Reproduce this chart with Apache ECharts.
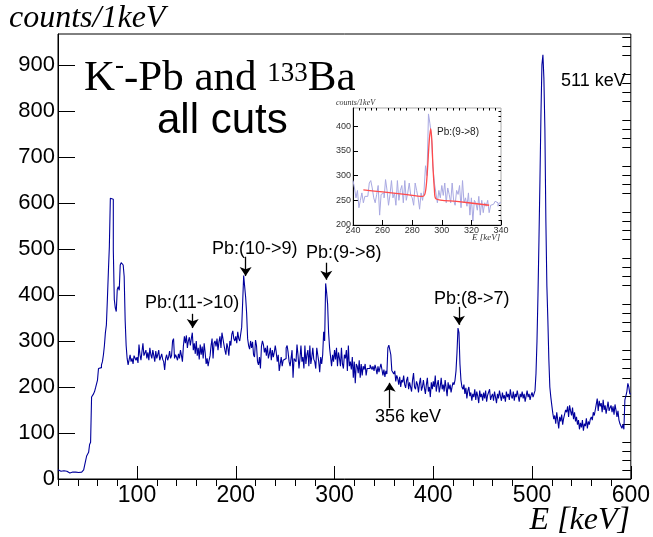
<!DOCTYPE html>
<html><head><meta charset="utf-8">
<script src="https://cdn.jsdelivr.net/npm/echarts@6/dist/echarts.min.js"></script>
<style>html,body{margin:0;padding:0;background:#fff}#c{width:653px;height:537px}</style>
</head><body><div id="c"></div>
<script>
// ---- main histogram: 1 keV bins from 20 to 600 keV ----
const binLow = 20;
const binWidth = 1;
const mainCounts = [
 20,18,17,15,16,18,14,15,17,14,
 15,13,14,16,15,13,14,15,12,13,
 14,12,13,15,16,14,20,30,40,50,
 52,58,75,80,178,182,185,190,198,202,
 215,240,238,242,248,255,270,290,318,335,
 390,450,505,610,612,608,498,390,372,364,
 412,418,410,465,470,468,465,440,345,290,
 262,248,245,270,255,262,250,268,272,258,
 265,252,292,270,258,262,295,268,272,280,
 262,275,258,285,270,262,280,268,255,278,
 262,270,280,258,265,272,260,255,237,262,
 270,258,265,278,262,268,300,305,262,270,
 265,258,272,262,280,268,255,290,310,295,
 312,285,300,308,290,305,318,280,295,272,
 300,268,285,260,292,270,288,262,295,275,
 250,262,245,258,268,290,305,262,295,300,
 288,305,280,298,310,285,318,320,292,280,
 270,295,285,268,300,290,315,322,305,300,
 310,295,320,305,300,315,330,385,442,440,
 395,360,305,290,282,300,285,298,270,265,
 302,290,255,248,265,240,288,300,292,275,
 285,268,290,262,272,285,258,280,265,275,
 290,275,255,270,235,250,265,245,258,258,
 262,285,290,275,255,245,262,280,220,262,
 265,255,292,270,240,262,290,255,265,240,
 290,250,270,280,245,290,250,265,285,260,
 255,240,285,270,255,232,265,250,270,320,
 300,425,405,380,318,285,265,245,270,255,
 280,260,285,245,275,262,245,285,250,240,
 270,262,280,235,290,245,255,238,265,220,
 255,208,250,245,230,258,220,250,225,245,
 238,250,225,240,242,240,248,245,238,245,
 235,248,240,228,245,232,242,250,238,225,
 238,222,235,228,285,291,288,270,236,232,
 228,235,212,225,218,205,222,200,215,210,
 225,205,198,215,222,195,210,200,190,215,
 230,200,195,212,205,188,208,220,192,200,
 215,198,185,205,220,190,200,178,210,195,
 212,200,225,190,205,215,188,200,220,195,
 205,190,215,198,180,210,195,205,188,200,
 210,205,215,235,275,328,318,250,215,200,
 195,205,185,198,175,192,200,180,188,170,
 185,178,195,172,190,180,165,192,178,185,
 170,188,175,192,168,182,178,195,172,180,
 185,170,190,178,165,185,175,192,180,170,
 188,175,182,168,190,178,185,172,195,180,
 175,190,170,185,178,192,180,168,185,178,
 190,175,185,168,180,192,178,185,172,182,
 188,178,185,192,230,300,400,520,650,790,
 900,922,870,760,560,420,346,260,200,178,
 160,143,130,138,120,145,128,110,135,125,
 140,118,132,128,150,145,158,135,160,148,
 138,155,130,145,125,135,118,128,108,122,
 112,128,105,120,115,132,110,125,118,130,
 135,128,145,138,150,162,175,148,170,158,
 165,145,172,150,160,142,155,168,148,155,
 160,145,158,140,162,150,135,148,128,120,
 115,110,118,108,172,180,190,208,200,185
];

// ---- inset: 1 keV bins 240..340 ----
const insetLow = 240;
const insetWidth = 1;
const insetCounts = [
 290,275,255,270,235,250,265,245,258,258,
 262,285,290,275,255,245,262,280,220,262,
 265,255,292,270,240,262,290,255,265,240,
 290,250,270,280,245,290,250,265,285,260,
 255,240,285,270,255,232,265,250,270,320,
 300,425,405,380,318,285,265,245,270,255,
 280,260,285,245,275,262,245,285,250,240,
 270,262,280,235,290,245,255,238,265,220,
 255,208,250,245,230,258,220,250,225,245,
 238,250,225,240,242,240,248,245,238,245
];
// fit curve (E, counts)
const fitE = [247,260,275,287,288.5,289.5,290.5,291.5,292.5,293.3,294,295,296,310,332];
const fitV = [271,267,262,258,262,280,320,370,395,370,320,272,253,248,240];

const xTickLabels = [100,200,300,400,500,600];
const yTickLabels = [0,100,200,300,400,500,600,700,800,900];
const insetXTicks = [240,260,280,300,320,340];
const insetYTicks = [200,250,300,350,400];

// arrows: [energy keV, from count, to count]
const arrowLines = [
  [156.4, 359, 328],
  [210, 483, 441],
  [291.7, 470, 433],
  [426, 374, 335],
  [355.8, 154, 209]
];

function stepData(low, w, counts){
  const d = counts.map((v,i)=>[low + i*w, v]);
  d.push([low + counts.length*w, counts[counts.length-1]]);
  return d;
}
function range(a,b,s){const r=[];for(let v=a;v<=b+1e-9;v+=s)r.push(v);return r;}
const xMinor = range(20,600,20).filter(v=>xTickLabels.indexOf(v)<0);
const yMinor = range(20,960,20).filter(v=>yTickLabels.indexOf(v)<0);
const insetXMinor = range(240,340,4).filter(v=>insetXTicks.indexOf(v)<0);
const insetYMinor = range(200,430,10).filter(v=>insetYTicks.indexOf(v)<0);

const chart = echarts.init(document.getElementById('c'), null, {renderer:'canvas'});
const sans = 'Liberation Sans, Arial, sans-serif';
const serif = 'Liberation Serif, Times New Roman, serif';

function axisMajor(grid, min, max, ticks, len, fs, margin, color){
  return {
    gridIndex: grid, type:'value', min:min, max:max,
    axisLine:{show:true, lineStyle:{color:'#000', width:1}},
    axisTick:{show:true, inside:true, length:len, customValues:ticks, lineStyle:{color:'#000', width:1}},
    axisLabel:{show:true, customValues:ticks, fontSize:fs, fontFamily:sans, color:color||'#000', margin:margin},
    splitLine:{show:false}
  };
}
function axisMinor(grid, min, max, ticks, len){
  return {
    gridIndex: grid, type:'value', min:min, max:max,
    axisLine:{show:false},
    axisTick:{show:true, inside:true, length:len, customValues:ticks, lineStyle:{color:'#000', width:1}},
    axisLabel:{show:false},
    splitLine:{show:false}
  };
}

const option = {
  animation:false,
  backgroundColor:'#fff',
  grid:[
    {left:58, top:34, width:573, height:445, show:true, borderColor:'#000', borderWidth:1, backgroundColor:'transparent'},
    {left:353, top:108, width:148, height:117, show:true, borderColor:'#aaa', borderWidth:1, backgroundColor:'#fff'}
  ],
  xAxis:[
    axisMajor(0, 20, 600, xTickLabels, 13, 23, 5),
    axisMinor(0, 20, 600, xMinor, 7),
    axisMajor(1, 240, 340, insetXTicks, 5, 9, 1, '#333'),
    axisMinor(1, 240, 340, insetXMinor, 2.5)
  ],
  yAxis:[
    axisMajor(0, 0, 967, yTickLabels, 17, 22, 3),
    axisMinor(0, 0, 967, yMinor, 8.5),
    axisMajor(1, 200, 437, insetYTicks, 5, 9, 2, '#333'),
    axisMinor(1, 200, 437, insetYMinor, 2.5)
  ],
  series:[
    {
      type:'line', xAxisIndex:0, yAxisIndex:0, step:'end', symbol:'none',
      data: stepData(binLow, binWidth, mainCounts),
      lineStyle:{color:'#00009c', width:1.1}, z:3,
      markLine:{
        silent:true, symbol:['none','arrow'], symbolSize:9, animation:false,
        label:{show:false},
        lineStyle:{color:'#000', width:1.3, type:'solid'},
        emphasis:{disabled:true},
        data: arrowLines.map(a=>[{coord:[a[0],a[1]]},{coord:[a[0],a[2]]}])
      }
    },
    {
      type:'line', xAxisIndex:2, yAxisIndex:2, step:'end', symbol:'none',
      data: stepData(insetLow, insetWidth, insetCounts),
      lineStyle:{color:'#a9a9e2', width:1}, z:5
    },
    {
      type:'line', xAxisIndex:2, yAxisIndex:2, symbol:'none', smooth:0.3,
      data: fitE.map((e,i)=>[e, fitV[i]]),
      lineStyle:{color:'#ff4a4a', width:1.3}, z:6
    }
  ],
  graphic:[
    {type:'text', left:9, top:3, style:{text:'counts/1keV', font:'italic 32px '+serif, fill:'#000'}},
    {type:'text', right:23, top:505, style:{text:'E [keV]', font:'italic 32px '+serif, fill:'#000'}},
    {type:'text', left:84, top:52, style:{
      text:'{a|K}{m|-}{a|-Pb and }{s|133}{a|Ba}',
      rich:{
        a:{fontSize:43, fontFamily:serif, fill:'#000', lineHeight:48, verticalAlign:'bottom'},
        m:{fontSize:27, fontFamily:serif, fill:'#000', lineHeight:30, verticalAlign:'top'},
        s:{fontSize:27, fontFamily:serif, fill:'#000', lineHeight:30, verticalAlign:'top', padding:[8,0,0,0]}
      }}},
    {type:'text', left:157, top:100, style:{text:'all cuts', font:'42px '+sans, fill:'#000'}},
    {type:'text', left:561, top:72, style:{text:'511 keV', font:'18px '+sans, fill:'#000'}},
    {type:'text', left:212, top:240, style:{text:'Pb:(10->9)', font:'18px '+sans, fill:'#000'}},
    {type:'text', left:306, top:244, style:{text:'Pb:(9->8)', font:'18px '+sans, fill:'#000'}},
    {type:'text', left:145, top:294, style:{text:'Pb:(11->10)', font:'18px '+sans, fill:'#000'}},
    {type:'text', left:434, top:290, style:{text:'Pb:(8->7)', font:'18px '+sans, fill:'#000'}},
    {type:'text', left:375, top:408, style:{text:'356 keV', font:'18px '+sans, fill:'#000'}},
    {type:'text', left:437, top:127, z:20, style:{text:'Pb:(9->8)', font:'10px '+sans, fill:'#222'}},
    {type:'text', left:336, top:99, z:20, style:{text:'counts/1keV', font:'italic 8px '+serif, fill:'#333'}},
    {type:'text', left:472, top:233, z:20, style:{text:'E [keV]', font:'italic 9px '+serif, fill:'#333'}}
  ]
};
chart.setOption(option);
</script>
</body></html>
